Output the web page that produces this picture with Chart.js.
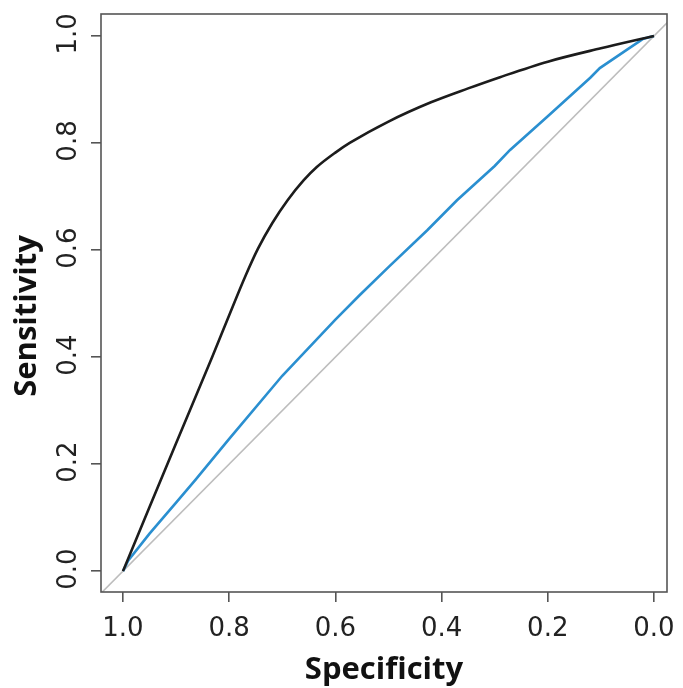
<!DOCTYPE html>
<html><head><meta charset="utf-8">
<script src="https://cdn.jsdelivr.net/npm/chart.js@4"></script>
<style>html,body{margin:0;padding:0;background:#fff}#wrap{width:683px;height:688px}</style>
</head><body><div id="wrap"><canvas id="c" width="683" height="688"></canvas></div>
<script>
const tickValues = [1.0, 0.8, 0.6, 0.4, 0.2, 0.0];
const tickLabels = ["1.0", "0.8", "0.6", "0.4", "0.2", "0.0"];
const xTitle = "Specificity";
const yTitle = "Sensitivity";

const rocASpec = [1.0, 0.95, 0.9, 0.832, 0.8, 0.77, 0.746, 0.719, 0.69, 0.66, 0.635, 0.6, 0.573, 0.5, 0.42, 0.35, 0.29, 0.2, 0.1, 0.0];
const rocASens = [0.0, 0.12, 0.239, 0.40, 0.478, 0.55, 0.602, 0.65, 0.693, 0.73, 0.755, 0.782, 0.8, 0.84, 0.876, 0.902, 0.923, 0.952, 0.977, 1.0];

const rocBSpec = [1.0, 0.99, 0.95, 0.9, 0.864, 0.8, 0.7, 0.68, 0.6, 0.554, 0.5, 0.427, 0.371, 0.3, 0.271, 0.2, 0.12, 0.102, 0.05, 0.02, 0.0];
const rocBSens = [0.0, 0.02, 0.07, 0.128, 0.17, 0.247, 0.365, 0.386, 0.47, 0.516, 0.568, 0.637, 0.693, 0.757, 0.787, 0.85, 0.922, 0.94, 0.975, 0.995, 1.0];

const refSpec = [1.1, -0.1];
const refSens = [-0.1, 1.1];

const toPts = (xs, ys) => xs.map((x, i) => ({x: x, y: ys[i]}));

const boxPlugin = {
  id: 'box',
  afterDraw(chart) {
    const {ctx, chartArea: a, scales} = chart;
    ctx.save();
    ctx.strokeStyle = '#555';
    ctx.lineWidth = 1.6;
    ctx.strokeRect(a.left, a.top, a.right - a.left, a.bottom - a.top);
    ctx.fillStyle = '#222';
    ctx.font = '26px "DejaVu Sans"';
    ctx.textAlign = 'center';
    ctx.textBaseline = 'middle';
    tickValues.forEach((v, i) => {
      const py = scales.y.getPixelForValue(v);
      ctx.save();
      ctx.translate(69, py - 2);
      ctx.rotate(-Math.PI / 2);
      ctx.fillText(tickLabels[i], 0, 0);
      ctx.restore();
    });
    ctx.fillStyle = '#111';
    ctx.font = 'bold 31px "Open Sans"';
    ctx.save();
    ctx.translate(27, 316);
    ctx.rotate(-Math.PI / 2);
    ctx.fillText(yTitle, 0, 0);
    ctx.restore();
    ctx.restore();
  }
};

new Chart(document.getElementById('c'), {
  type: 'scatter',
  data: {
    datasets: [
      {data: toPts(rocASpec, rocASens), showLine: true, borderColor: '#1c1c1c', borderWidth: 2.6, pointRadius: 0, cubicInterpolationMode: 'monotone', clip: 0},
      {data: toPts(rocBSpec, rocBSens), showLine: true, borderColor: '#2a8fd0', borderWidth: 2.6, pointRadius: 0, tension: 0, clip: 0},
      {data: toPts(refSpec, refSens), showLine: true, borderColor: '#bdbdbd', borderWidth: 1.6, pointRadius: 0, tension: 0, clip: 0}
    ]
  },
  options: {
    responsive: false,
    animation: false,
    devicePixelRatio: 1,
    layout: {padding: {top: 14, right: 16, left: 0, bottom: 0}},
    plugins: {legend: {display: false}, tooltip: {enabled: false}},
    scales: {
      x: {
        type: 'linear', reverse: true, min: -0.0245, max: 1.0414,
        afterBuildTicks: s => { s.ticks = tickValues.map(v => ({value: v})); },
        afterFit: s => { s.height = 96; s.paddingLeft = 0; s.paddingRight = 0; },
        grid: {drawOnChartArea: false, drawTicks: true, tickLength: 10, color: '#555', lineWidth: 1.6},
        border: {display: false},
        ticks: {
          autoSkip: false, maxRotation: 0, padding: 12, color: '#222',
          font: {family: 'DejaVu Sans', size: 26},
          callback: (v) => tickLabels[tickValues.indexOf(Math.round(v * 10) / 10)]
        },
        title: {display: true, text: xTitle, color: '#111', padding: {top: 0, bottom: 2},
          font: {family: 'Open Sans', size: 31, weight: 'bold', lineHeight: 1}}
      },
      y: {
        type: 'linear', min: -0.039, max: 1.041,
        afterBuildTicks: s => { s.ticks = tickValues.map(v => ({value: v})); },
        afterFit: s => { s.width = 101; s.paddingTop = 0; s.paddingBottom = 0; },
        grid: {drawOnChartArea: false, drawTicks: true, tickLength: 10, color: '#555', lineWidth: 1.6},
        border: {display: false},
        ticks: {color: 'rgba(0,0,0,0)', font: {family: 'DejaVu Sans', size: 1}, callback: () => ''},
        title: {display: false}
      }
    }
  },
  plugins: [boxPlugin]
});
</script></body></html>
